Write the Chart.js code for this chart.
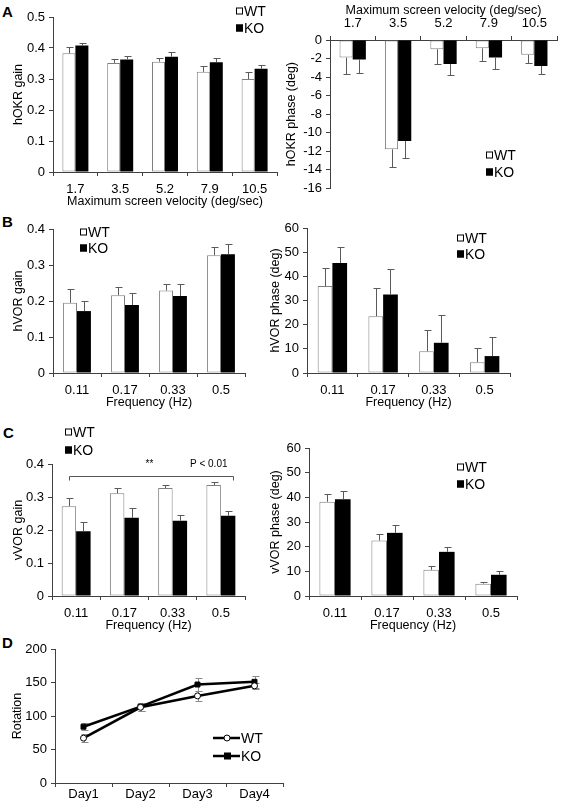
<!DOCTYPE html>
<html lang="en">
<head>
<meta charset="UTF-8">
<title>OKR / VOR / rotarod</title>
<script src="https://cdn.jsdelivr.net/npm/chart.js"></script>
<style>
  body { margin: 0; background: #fff; font-family: "Liberation Sans", Arial, sans-serif; }
  .fig { position: relative; width: 563px; height: 808px; overflow: hidden; }
  .fig canvas { position: absolute; }
  .tag { position: absolute; font-weight: bold; font-size: 15px; line-height: 18px; }
</style>
</head>
<body>
<div class="fig" id="fig">
  <div class="tag" style="left:2px;top:3px">A</div>
  <div class="tag" style="left:2px;top:213px">B</div>
  <div class="tag" style="left:3px;top:424px">C</div>
  <div class="tag" style="left:2px;top:634px">D</div>
</div>
<script>
// ---- data ----
const velocity = ['1.7', '3.5', '5.2', '7.9', '10.5'];
const freq = ['0.11', '0.17', '0.33', '0.5'];
const days = ['Day1', 'Day2', 'Day3', 'Day4'];

const okrGainWT = [0.383, 0.352, 0.356, 0.323, 0.300];
const okrGainWTErr = [0.020, 0.013, 0.013, 0.019, 0.022];
const okrGainKO = [0.408, 0.363, 0.372, 0.354, 0.333];
const okrGainKOErr = [0.008, 0.010, 0.014, 0.014, 0.013];

const okrPhaseWT = [-1.9, -11.8, -1.0, -0.9, -1.6];
const okrPhaseWTErr = [1.75, 1.9, 1.6, 1.4, 0.9];
const okrPhaseKO = [-2.1, -10.9, -2.6, -1.9, -2.8];
const okrPhaseKOErr = [1.5, 1.8, 1.2, 1.2, 0.9];

const hvorGainWT = [0.195, 0.216, 0.229, 0.327];
const hvorGainWTErr = [0.037, 0.024, 0.017, 0.022];
const hvorGainKO = [0.172, 0.189, 0.214, 0.330];
const hvorGainKOErr = [0.028, 0.033, 0.033, 0.028];

const hvorPhaseWT = [36, 23.5, 9, 4.5];
const hvorPhaseWTErr = [7.5, 11.5, 9, 5.8];
const hvorPhaseKO = [45.5, 32.5, 12.5, 7];
const hvorPhaseKOErr = [6.5, 10.5, 11.5, 7.7];

const vvorGainWT = [0.272, 0.311, 0.327, 0.336];
const vvorGainWTErr = [0.024, 0.017, 0.010, 0.010];
const vvorGainKO = [0.196, 0.237, 0.228, 0.243];
const vvorGainKOErr = [0.028, 0.030, 0.018, 0.016];

const vvorPhaseWT = [38.2, 22.5, 10.6, 5.0];
const vvorPhaseWTErr = [3.3, 2.5, 1.6, 0.8];
const vvorPhaseKO = [39.2, 25.6, 17.9, 8.6];
const vvorPhaseKOErr = [3.5, 3.1, 1.9, 1.6];

const rotWT = [67, 113, 130, 145];
const rotWTErr = [6, 5, 8, 5];
const rotKO = [84, 114, 147, 151];
const rotKOErr = [5, 6, 10, 9];

const FONT = '"Liberation Sans", Arial, sans-serif';
const AXIS = '#404040';
const ERR = '#5a5a5a';

// error bars: bars get a one-sided whisker away from zero, lines get both sides
const errorBars = {
  id: 'errorBars',
  beforeDatasetsDraw(chart) {
    if (chart.config.type === 'line') drawErr(chart, true);
  },
  afterDatasetsDraw(chart) {
    if (chart.config.type === 'bar') drawErr(chart, false);
  }
};

function drawErr(chart, both) {
  const ctx = chart.ctx, ys = chart.scales.y;
  ctx.save();
  ctx.lineWidth = 1;
  ctx.strokeStyle = both ? '#8a8a8a' : ERR;
  chart.data.datasets.forEach((ds, i) => {
    if (!ds.err) return;
    chart.getDatasetMeta(i).data.forEach((el, j) => {
      const v = ds.data[j], e = ds.err[j];
      const x = Math.round(el.x) + 0.5;
      const ends = both ? [v - e, v + e] : [v + (v < 0 ? -e : e)];
      ends.forEach(t => {
        const y0 = ys.getPixelForValue(v);
        const y1 = Math.round(ys.getPixelForValue(t)) + 0.5;
        ctx.beginPath();
        ctx.moveTo(x, y0); ctx.lineTo(x, y1);
        ctx.moveTo(x - 3, y1); ctx.lineTo(x + 4, y1);
        ctx.stroke();
      });
    });
  });
  ctx.restore();
}

// small legend placed inside the panel
const boxLegend = {
  id: 'boxLegend',
  afterDraw(chart, args, o) {
    if (!o || o.x === undefined) return;
    const ctx = chart.ctx;
    ctx.save();
    ctx.font = '14px ' + FONT;
    ctx.textBaseline = 'middle';
    chart.data.datasets.forEach((ds, i) => {
      const y = o.y + i * o.dy;
      let tx;
      if (o.line) {
        ctx.strokeStyle = '#000';
        ctx.lineWidth = 2.5;
        ctx.beginPath(); ctx.moveTo(o.x, y); ctx.lineTo(o.x + 27, y); ctx.stroke();
        ctx.lineWidth = 1;
        ctx.fillStyle = ds.pointBackgroundColor;
        if (ds.pointStyle === 'rect') {
          ctx.fillRect(o.x + 11, y - 3.5, 7, 7);
        } else {
          ctx.beginPath(); ctx.arc(o.x + 14, y, 3, 0, Math.PI * 2); ctx.fill(); ctx.stroke();
        }
        tx = o.x + 28;
      } else {
        ctx.fillStyle = ds.backgroundColor;
        ctx.fillRect(o.x, y - 3.5, 7, 7);
        ctx.strokeStyle = '#000';
        ctx.lineWidth = 1;
        ctx.strokeRect(o.x + 0.5, y - 3, 6, 6);
        tx = o.x + 8;
      }
      ctx.fillStyle = '#000';
      ctx.fillText(ds.label, tx, y + 1);
    });
    ctx.restore();
  }
};

// significance bracket for vVOR gain
const bracket = {
  id: 'bracket',
  afterDraw(chart, args, o) {
    if (!o || o.value === undefined) return;
    const ctx = chart.ctx;
    const x0 = Math.round(chart.getDatasetMeta(0).data[o.from].x) + 0.5;
    const x1 = Math.round(chart.getDatasetMeta(1).data[o.to].x) + 5.5;
    const y = Math.round(chart.scales.y.getPixelForValue(o.value)) + 0.5;
    ctx.save();
    ctx.strokeStyle = '#555';
    ctx.lineWidth = 1;
    ctx.beginPath();
    ctx.moveTo(x0, y + 4); ctx.lineTo(x0, y); ctx.lineTo(x1, y); ctx.lineTo(x1, y + 4);
    ctx.stroke();
    ctx.fillStyle = '#000';
    ctx.font = '10px ' + FONT;
    ctx.textBaseline = 'middle';
    ctx.textAlign = 'center';
    ctx.fillText(o.stars, (x0 + x1) / 2 - 2, y - 12);
    ctx.textAlign = 'right';
    ctx.fillText(o.note, x1 - 6, y - 12);
    ctx.restore();
  }
};

function makeCanvas(left, top, w, h) {
  const c = document.createElement('canvas');
  c.width = w; c.height = h;
  c.style.left = left + 'px'; c.style.top = top + 'px';
  c.style.width = w + 'px'; c.style.height = h + 'px';
  document.getElementById('fig').appendChild(c);
  return c;
}

function axisX(p) {
  return {
    position: p.xTop ? 'top' : 'bottom',
    offset: true,
    grid: { offset: true, drawOnChartArea: false, tickLength: 4, color: AXIS },
    border: { color: AXIS },
    ticks: { font: { family: FONT, size: 13 }, color: '#000', padding: p.xPad, maxRotation: 0, autoSkip: false },
    title: { display: !!p.xTitle, text: p.xTitle, font: { family: FONT, size: 12.5 }, color: '#000', padding: 0 },
    afterFit: s => { s.height = p.xH; }
  };
}

function axisY(p) {
  return {
    min: p.min, max: p.max,
    ticks: { stepSize: p.step, autoSkip: false, font: { family: FONT, size: 13 }, color: '#000', padding: 4 },
    grid: { drawOnChartArea: false, tickLength: 4, color: AXIS },
    border: { color: AXIS },
    title: { display: true, text: p.yTitle, font: { family: FONT, size: 12.5 }, color: '#000', padding: 0 },
    afterFit: s => { s.width = p.yW; }
  };
}

function barPanel(p) {
  const c = makeCanvas(...p.box);
  return new Chart(c, {
    type: 'bar',
    data: {
      labels: p.labels,
      datasets: [
        { label: 'WT', data: p.wt, err: p.wtErr, backgroundColor: '#fff', borderColor: '#7f7f7f', borderWidth: 1, borderSkipped: false },
        { label: 'KO', data: p.ko, err: p.koErr, backgroundColor: '#000', borderColor: '#000', borderWidth: 0 }
      ]
    },
    options: {
      responsive: false,
      animation: false,
      layout: { padding: p.pad },
      datasets: { bar: { categoryPercentage: p.cat || 0.58, barPercentage: 1 } },
      plugins: {
        legend: { display: false },
        tooltip: { enabled: false },
        boxLegend: p.legend,
        bracket: p.bracket || {}
      },
      scales: { x: axisX(p), y: axisY(p) }
    },
    plugins: [errorBars, boxLegend, bracket]
  });
}

// A - hOKR gain
barPanel({
  box: [0, 0, 280, 209], pad: { top: 17, right: 3, left: 11, bottom: 0 },
  labels: velocity, wt: okrGainWT, wtErr: okrGainWTErr, ko: okrGainKO, koErr: okrGainKOErr,
  min: 0, max: 0.5, step: 0.1, yW: 42, xH: 37, xPad: 6,
  yTitle: 'hOKR gain', xTitle: 'Maximum screen velocity (deg/sec)',
  legend: { x: 236, y: 11, dy: 17 }
});

// A - hOKR phase
barPanel({
  box: [280, 0, 283, 200], pad: { top: 3, right: 6, left: 4, bottom: 6 },
  labels: velocity, wt: okrPhaseWT, wtErr: okrPhaseWTErr, ko: okrPhaseKO, koErr: okrPhaseKOErr,
  min: -16, max: 0, step: 2, yW: 46, xH: 37, xPad: 5, xTop: true,
  yTitle: 'hOKR phase (deg)', xTitle: 'Maximum screen velocity (deg/sec)',
  legend: { x: 206, y: 155, dy: 17 }
});

// B - hVOR gain
barPanel({
  box: [0, 205, 280, 205], pad: { top: 24, right: 35, left: 11, bottom: 0 },
  labels: freq, wt: hvorGainWT, wtErr: hvorGainWTErr, ko: hvorGainKO, koErr: hvorGainKOErr,
  min: 0, max: 0.4, step: 0.1, yW: 42, xH: 37, xPad: 6,
  yTitle: 'hVOR gain', xTitle: 'Frequency (Hz)',
  legend: { x: 80, y: 27, dy: 16 }
});

// B - hVOR phase
barPanel({
  box: [265, 205, 298, 205], pad: { top: 23, right: 53, left: 3, bottom: 0 },
  labels: freq, wt: hvorPhaseWT, wtErr: hvorPhaseWTErr, ko: hvorPhaseKO, koErr: hvorPhaseKOErr,
  min: 0, max: 60, step: 10, yW: 39, xH: 37, xPad: 6,
  yTitle: 'hVOR phase (deg)', xTitle: 'Frequency (Hz)',
  legend: { x: 192, y: 33, dy: 16 }
});

// C - vVOR gain
barPanel({
  box: [0, 420, 280, 213], pad: { top: 44, right: 35, left: 11, bottom: 0 },
  labels: freq, wt: vvorGainWT, wtErr: vvorGainWTErr, ko: vvorGainKO, koErr: vvorGainKOErr,
  min: 0, max: 0.4, step: 0.1, yW: 41, xH: 37, xPad: 6, cat: 0.6,
  yTitle: 'vVOR gain', xTitle: 'Frequency (Hz)',
  legend: { x: 65, y: 12, dy: 18 },
  bracket: { from: 0, to: 3, value: 0.364, stars: '**', note: 'P < 0.01' }
});

// C - vVOR phase
barPanel({
  box: [265, 420, 298, 213], pad: { top: 28, right: 46, left: 3, bottom: 0 },
  labels: freq, wt: vvorPhaseWT, wtErr: vvorPhaseWTErr, ko: vvorPhaseKO, koErr: vvorPhaseKOErr,
  min: 0, max: 60, step: 10, yW: 41, xH: 37, xPad: 6, cat: 0.6,
  yTitle: 'vVOR phase (deg)', xTitle: 'Frequency (Hz)',
  legend: { x: 192, y: 47, dy: 17 }
});

// D - rotarod
const dPanel = { min: 0, max: 200, step: 50, yW: 45, xH: 25, xPad: 0, yTitle: 'Rotation' };
new Chart(makeCanvas(0, 630, 300, 178), {
  type: 'line',
  data: {
    labels: days,
    datasets: [
      { label: 'WT', data: rotWT, err: rotWTErr, borderColor: '#000', borderWidth: 2.5,
        pointStyle: 'circle', pointRadius: 3, pointBackgroundColor: '#fff', pointBorderColor: '#000', pointBorderWidth: 1 },
      { label: 'KO', data: rotKO, err: rotKOErr, borderColor: '#000', borderWidth: 2.5,
        pointStyle: 'rect', pointRadius: 3.5, pointBackgroundColor: '#000', pointBorderColor: '#000', pointBorderWidth: 1 }
    ]
  },
  options: {
    responsive: false,
    animation: false,
    layout: { padding: { top: 19, right: 17, left: 10, bottom: 0 } },
    plugins: {
      legend: { display: false },
      tooltip: { enabled: false },
      boxLegend: { x: 213, y: 108, dy: 18, line: true }
    },
    scales: { x: axisX(dPanel), y: axisY(dPanel) }
  },
  plugins: [errorBars, boxLegend]
});
</script>
</body>
</html>
